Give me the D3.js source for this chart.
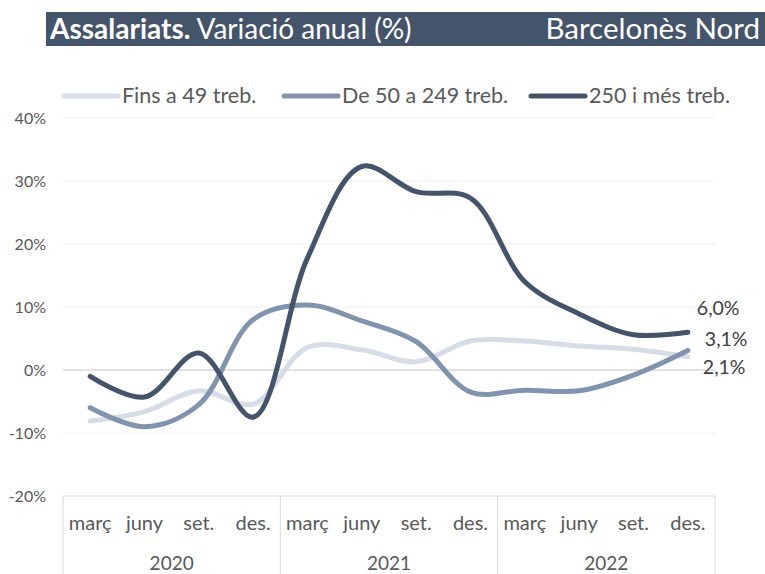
<!DOCTYPE html>
<html>
<head>
<meta charset="utf-8">
<script src="https://cdn.jsdelivr.net/npm/d3@7"></script>
<style>
  body { margin: 0; background: #fff; }
  text { font-family: Lato, "Open Sans", sans-serif; }
</style>
</head>
<body>
<svg id="chart" width="765" height="574"></svg>
<script>
// dades
var mesos = ["març", "juny", "set.", "des."];
var anys = ["2020", "2021", "2022"];
var series = ["Fins a 49 treb.", "De 50 a 249 treb.", "250 i més treb."];
var fins49 = [-8.1, -6.6, -3.3, -5.4, 3.6, 3.2, 1.3, 4.6, 4.6, 3.8, 3.3, 2.1];
var de50a249 = [-6.0, -9.0, -5.5, 8.0, 10.3, 7.8, 4.5, -3.5, -3.2, -3.3, -0.8, 3.1];
var mes250 = [-1.0, -4.3, 2.7, -7.5, 17.8, 32.3, 28.3, 27.3, 14.0, 8.9, 5.6, 6.0];
var yTicks = [-20, -10, 0, 10, 20, 30, 40];
var colors = ["#d6dde7", "#8094ae", "#44546a"];

var svg = d3.select("#chart");
var mLeft = 63, mRight = 715, mTop = 118, mBottom = 496;

// categories (any + mes)
var cats = [];
anys.forEach(function(a) { mesos.forEach(function(m) { cats.push(a + "|" + m); }); });

var x = d3.scaleBand().domain(cats).range([mLeft, mRight]);
var y = d3.scaleLinear().domain([-20, 40]).range([mBottom, mTop]);

// capçalera
svg.append("rect").attr("x", 46).attr("y", 12).attr("width", 719).attr("height", 34).attr("fill", "#44546a");
var t = svg.append("text").attr("x", 50).attr("y", 39).attr("fill", "#fff").attr("font-size", 28);
t.append("tspan").attr("font-weight", "bold").text("Assalariats.");
t.append("tspan").text(" Variació anual (%)");
svg.append("text").attr("x", 760).attr("y", 39).attr("text-anchor", "end")
  .attr("fill", "#fff").attr("font-size", 29.5).text("Barcelonès Nord");

// graella
svg.append("g").selectAll("line").data(yTicks.filter(function(d) { return d > -20; })).join("line")
  .attr("x1", mLeft).attr("x2", mRight)
  .attr("y1", function(d) { return y(d); }).attr("y2", function(d) { return y(d); })
  .attr("stroke", function(d) { return d === 0 ? "#d9d9d9" : "#efefef"; })
  .attr("stroke-width", function(d) { return d === 0 ? 1.5 : 1; });

svg.append("g").selectAll("text").data(yTicks).join("text")
  .attr("x", 46).attr("y", function(d) { return y(d) + 6; })
  .attr("text-anchor", "end").attr("font-size", 16).attr("fill", "#595959")
  .text(function(d) { return d + "%"; });

// eix x
svg.append("line").attr("x1", mLeft).attr("x2", mRight).attr("y1", mBottom).attr("y2", mBottom)
  .attr("stroke", "#d9d9d9");
var sep = [0, 4, 8, 12].map(function(i) { return i < 12 ? x(cats[i]) : mRight; });
svg.append("g").selectAll("line").data(sep).join("line")
  .attr("x1", function(d) { return d; }).attr("x2", function(d) { return d; })
  .attr("y1", mBottom).attr("y2", 574).attr("stroke", "#d9d9d9");

svg.append("g").selectAll("text").data(cats).join("text")
  .attr("x", function(d) { return x(d) + x.bandwidth() / 2; }).attr("y", 530)
  .attr("text-anchor", "middle").attr("font-size", 20).attr("fill", "#595959")
  .text(function(d) { return d.split("|")[1]; });

svg.append("g").selectAll("text").data(anys).join("text")
  .attr("x", function(d, i) { return (sep[i] + sep[i + 1]) / 2; }).attr("y", 570)
  .attr("text-anchor", "middle").attr("font-size", 19).attr("fill", "#595959")
  .text(function(d) { return d; });

// línies
var line = d3.line()
  .x(function(d, i) { return x(cats[i]) + x.bandwidth() / 2; })
  .y(function(d) { return y(d); })
  .curve(d3.curveCatmullRom.alpha(0.5));

[fins49, de50a249, mes250].forEach(function(s, i) {
  svg.append("path").datum(s).attr("d", line).attr("fill", "none")
    .attr("stroke", colors[i]).attr("stroke-width", 5).attr("stroke-linecap", "round");
});

// etiquetes finals
var lastX = x(cats[11]) + x.bandwidth() / 2;
var labels = [
  { v: mes250[11], dx: 9, dy: -17 },
  { v: de50a249[11], dx: 17, dy: -4 },
  { v: fins49[11], dx: 15, dy: 17 }
];
svg.append("g").selectAll("text").data(labels).join("text")
  .attr("x", function(d) { return lastX + d.dx; })
  .attr("y", function(d) { return y(d.v) + d.dy; })
  .attr("font-size", 19.5).attr("fill", "#404040")
  .text(function(d) { return d.v.toFixed(1).replace(".", ",") + "%"; });

// llegenda
var legX = [64, 284, 531];
var leg = svg.append("g").selectAll("g").data(series).join("g");
leg.append("line")
  .attr("x1", function(d, i) { return legX[i]; }).attr("x2", function(d, i) { return legX[i] + 54; })
  .attr("y1", 96).attr("y2", 96)
  .attr("stroke", function(d, i) { return colors[i]; }).attr("stroke-width", 5).attr("stroke-linecap", "round");
leg.append("text")
  .attr("x", function(d, i) { return legX[i] + 58; }).attr("y", 103)
  .attr("font-size", 21.5).attr("fill", "#595959")
  .text(function(d) { return d; });
</script>
</body>
</html>
